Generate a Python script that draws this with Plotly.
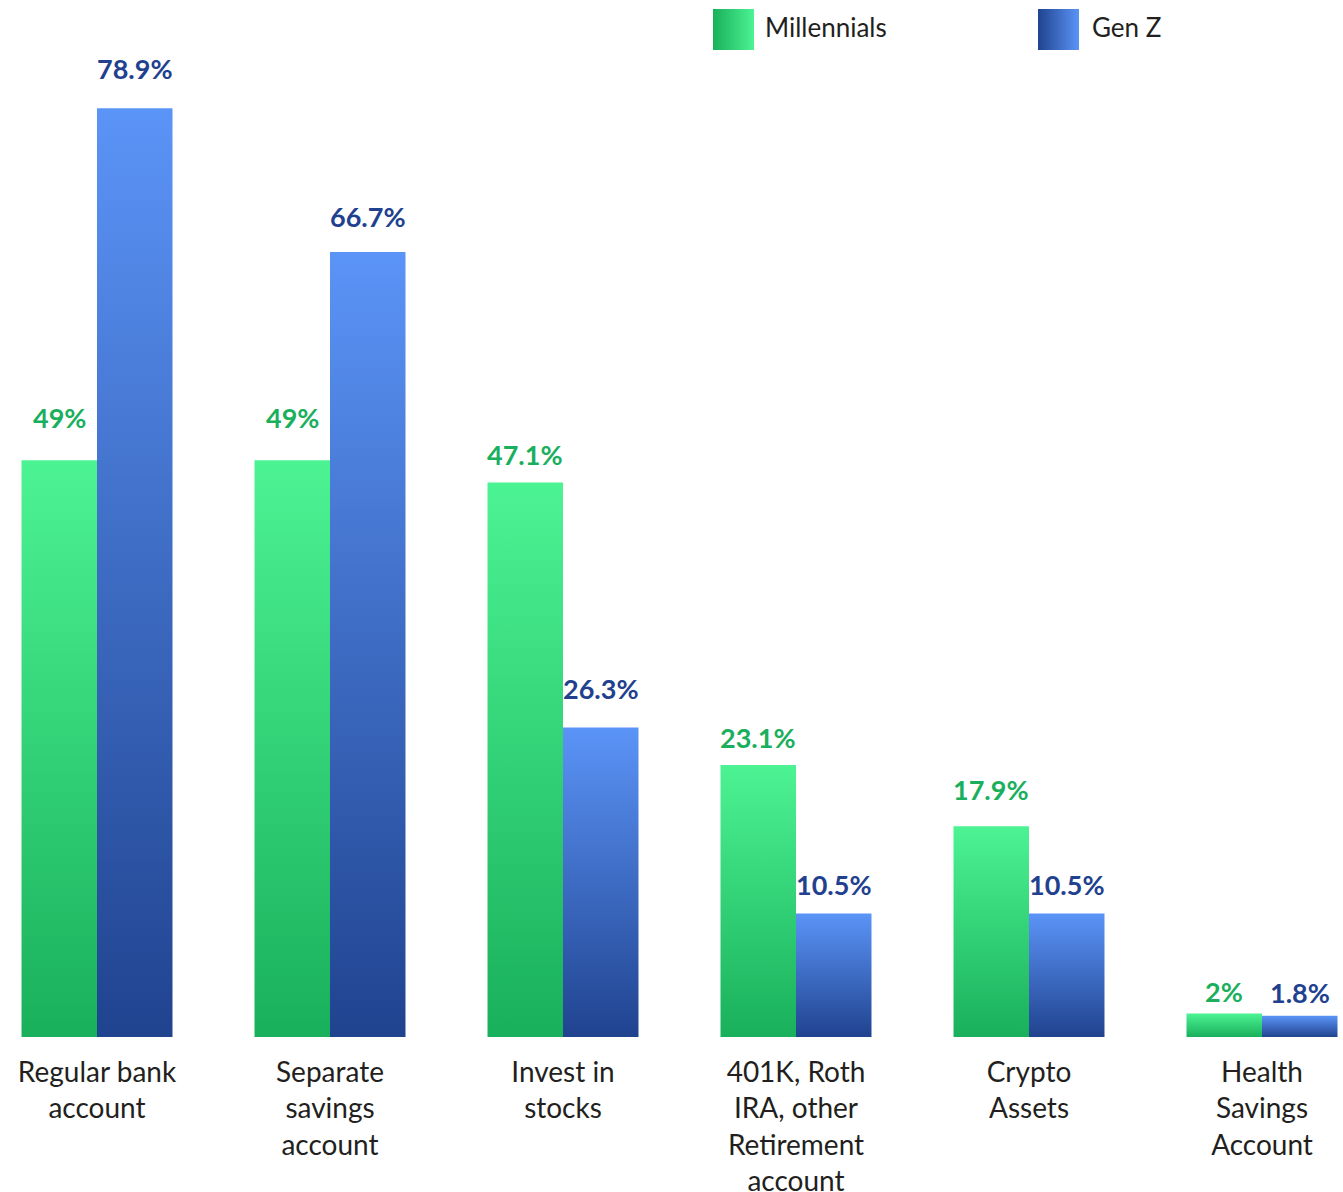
import plotly.graph_objects as go

# Survey data: share of respondents holding each kind of account
categories = [
    "Regular bank<br>account",
    "Separate<br>savings<br>account",
    "Invest in<br>stocks",
    "401K, Roth<br>IRA, other<br>Retirement<br>account",
    "Crypto<br>Assets",
    "Health<br>Savings<br>Account",
]
millennials = [49, 49, 47.1, 23.1, 17.9, 2]
gen_z = [78.9, 66.7, 26.3, 10.5, 10.5, 1.8]
series_names = ["Millennials", "Gen Z"]

# Vertical lift (px) of each value label above its bar top
millennials_label_lift = [43, 43, 28, 28, 37, 22]
gen_z_label_lift = [40, 35, 39, 29, 29, 23]

W, H = 1343, 1192
PLOT_H = 1037  # pixel height of the plotting area
BAR_W = 0.324  # bar width in category units

GREEN = ("#19b05b", "#4cf393")   # bottom, top
BLUE = ("#20438f", "#5b94f7")
GREEN_TXT = "#1aaf5d"
BLUE_TXT = "#21418f"
TEXT = "#231f20"


def fmt(v):
    return f"{v:g}%"


fig = go.Figure()

series = [
    (millennials, millennials_label_lift, -1, GREEN, GREEN_TXT),
    (gen_z, gen_z_label_lift, 0, BLUE, BLUE_TXT),
]

annotations = []
for values, lifts, side, (c_lo, c_hi), txt_col in series:
    for i, (v, lift) in enumerate(zip(values, lifts)):
        x0 = i + side * BAR_W
        x1 = x0 + BAR_W
        fig.add_trace(go.Scatter(
            x=[x0, x0, x1, x1, x0],
            y=[0, v, v, 0, 0],
            mode="lines",
            line=dict(width=0),
            fill="toself",
            fillgradient=dict(type="vertical", colorscale=[[0, c_lo], [1, c_hi]]),
            hoverinfo="skip",
            showlegend=False,
        ))
        annotations.append(dict(
            x=(x0 + x1) / 2, y=v, xref="x", yref="y",
            text=f"<b>{fmt(v)}</b>", showarrow=False,
            xanchor="center", yanchor="middle", yshift=lift,
            font=dict(family="Lato", size=27, color=txt_col),
        ))

# Legend swatches drawn on a pixel-based overlay axis pair
legend_x = [733.5, 1058.5]
legend_y = [29.5, 29.5]
legend_text_x = [763, 1090]
for (c_lo, c_hi), lx, ly, tx, name in zip([GREEN, BLUE], legend_x, legend_y,
                                          legend_text_x, series_names):
    fig.add_trace(go.Scatter(
        x=[lx], y=[ly], xaxis="x2", yaxis="y2",
        mode="markers",
        marker=dict(symbol="square", size=41, color=c_lo,
                    gradient=dict(type="horizontal", color=c_hi),
                    line=dict(width=0)),
        hoverinfo="skip", showlegend=False,
    ))
    annotations.append(dict(
        x=tx / W, y=1 - (ly - 2.5) / PLOT_H, xref="paper", yref="paper",
        text=name, showarrow=False, xanchor="left", yanchor="middle",
        font=dict(family="Lato", size=26, color=TEXT),
    ))

x_lo = -97 / 233
x_hi = (W - 97) / 233

fig.update_layout(
    width=W, height=H,
    margin=dict(l=0, r=0, t=0, b=H - PLOT_H, autoexpand=False),
    paper_bgcolor="white", plot_bgcolor="white",
    showlegend=False,
    annotations=annotations,
    xaxis=dict(
        range=[x_lo, x_hi], tickvals=list(range(len(categories))),
        ticktext=categories, showgrid=False, zeroline=False, showline=False,
        ticks="", ticklabelstandoff=16, automargin=False,
        tickfont=dict(family="Lato", size=28, color=TEXT),
        fixedrange=True,
    ),
    yaxis=dict(
        range=[0, 88.1], visible=False, showgrid=False, zeroline=False,
        automargin=False, fixedrange=True,
    ),
    xaxis2=dict(range=[0, W], overlaying="x", visible=False, fixedrange=True,
                automargin=False),
    yaxis2=dict(range=[PLOT_H, 0], overlaying="y", visible=False, fixedrange=True,
                automargin=False),
)

fig.write_html("out.html", config={"displayModeBar": False})
